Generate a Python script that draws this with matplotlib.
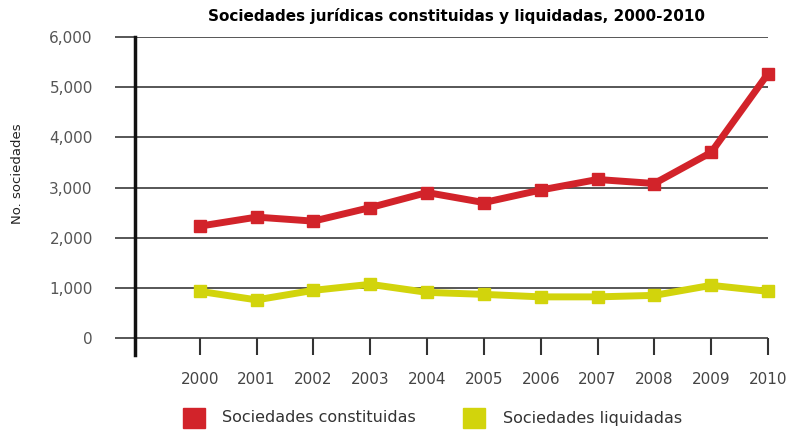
import matplotlib.pyplot as plt
from matplotlib.patches import Rectangle

years = ["2000", "2001", "2002", "2003", "2004", "2005",
         "2006", "2007", "2008", "2009", "2010"]
constituidas = [2230, 2410, 2330, 2600, 2900, 2700, 2950, 3160, 3080, 3700, 5270]
liquidadas = [930, 760, 950, 1070, 910, 870, 820, 820, 850, 1050, 930]
y_ticks = [0, 1000, 2000, 3000, 4000, 5000, 6000]

red = "#d2232a"
yellow = "#d2d40c"
font = "DejaVu Sans"

fig = plt.figure(figsize=(7.88, 4.33), dpi=100)
ax = fig.add_axes([0.1713, 0.1801, 0.8033, 0.7344])

x = list(range(len(years)))
ax.plot(x, constituidas, color=red, lw=5, marker="s", ms=9, clip_on=False, zorder=3)
ax.plot(x, liquidadas, color=yellow, lw=5, marker="s", ms=9, clip_on=False, zorder=3)

ax.set_xlim(-1.14, 10)
ax.set_ylim(-339, 6000)
ax.set_yticks(y_ticks)
ax.set_yticklabels([f"{v:,}" for v in y_ticks], family=font, fontsize=11, color="#555555")
ax.set_xticks(x)
ax.set_xticklabels(years, family=font, fontsize=11, color="#444444")

ax.grid(axis="y", color="#3a3a3a", lw=1.2)
ax.set_axisbelow(True)
ax.tick_params(axis="y", length=14.4, width=1.2, color="#3a3a3a", pad=16)
ax.tick_params(axis="x", direction="in", length=12.2, width=1.5, color="#333333", pad=12)

for side in ["top", "right", "bottom"]:
    ax.spines[side].set_visible(False)
ax.spines["left"].set_linewidth(2.5)
ax.spines["left"].set_color("#111111")

fig.text(457 / 788, 0.963, "Sociedades jurídicas constituidas y liquidadas, 2000-2010",
         ha="center", va="center", family=font, fontweight="bold", fontsize=11)
fig.text(0.022, 0.60, "No. sociedades", rotation=90, ha="center", va="center",
         family="Liberation Sans Narrow", fontsize=9.5, color="#222222")

# legend
for x0, x_txt, c, label in [(183, 222, red, "Sociedades constituidas"),
                            (463, 503, yellow, "Sociedades liquidadas")]:
    fig.patches.append(Rectangle((x0 / 788, 1 - 428 / 433), 22 / 788, 20 / 433,
                                 transform=fig.transFigure, color=c))
    fig.text(x_txt / 788, 1 - 418 / 433, label, ha="left", va="center",
             family=font, fontsize=11.5, color="#333333")

fig.savefig("out.png", dpi=100)
